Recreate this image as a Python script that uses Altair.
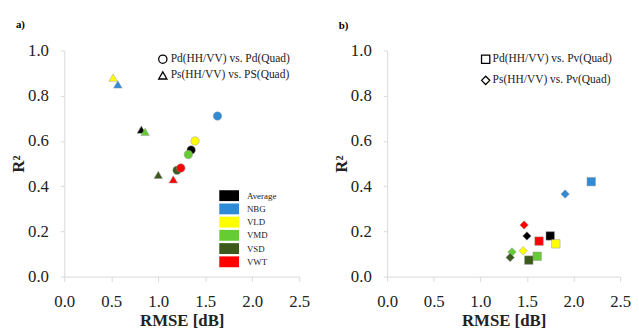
import altair as alt
import pandas as pd

categories = ["Average", "NBG", "VLD", "VMD", "VSD", "VWT"]
colors = ["#000000", "#2E8BD8", "#FFFF00", "#66CC33", "#3B5A1C", "#FF0000"]

# panel a)
a_series = ["Pd(HH/VV) vs. Pd(Quad)", "Ps(HH/VV) vs. PS(Quad)"]
a_pd_rmse = [1.35, 1.63, 1.39, 1.32, 1.20, 1.24]
a_pd_r2 = [0.56, 0.71, 0.60, 0.54, 0.47, 0.48]
a_ps_rmse = [0.82, 0.57, 0.52, 0.86, 1.00, 1.16]
a_ps_r2 = [0.65, 0.85, 0.88, 0.64, 0.45, 0.43]

# panel b)
b_series = ["Pd(HH/VV) vs. Pv(Quad)", "Ps(HH/VV) vs. Pv(Quad)"]
b_pd_rmse = [1.75, 2.19, 1.81, 1.61, 1.52, 1.63]
b_pd_r2 = [0.18, 0.42, 0.145, 0.09, 0.073, 0.157]
b_ps_rmse = [1.50, 1.91, 1.46, 1.34, 1.32, 1.47]
b_ps_r2 = [0.18, 0.365, 0.114, 0.109, 0.085, 0.228]

x_ticks = [0.0, 0.5, 1.0, 1.5, 2.0, 2.5]
y_ticks = [0.0, 0.2, 0.4, 0.6, 0.8, 1.0]

FONT = "Liberation Serif"


def make_df(series, pd_rmse, pd_r2, ps_rmse, ps_r2):
    rows = []
    for i, c in enumerate(categories):
        rows.append({"series": series[0], "category": c, "rmse": pd_rmse[i], "r2": pd_r2[i]})
    for i, c in enumerate(categories):
        rows.append({"series": series[1], "category": c, "rmse": ps_rmse[i], "r2": ps_r2[i]})
    return pd.DataFrame(rows)


def panel(df, series, shapes, label, label_dy, shape_legend, color_legend, w):
    x = alt.X("rmse:Q", scale=alt.Scale(domain=[0, 2.5], nice=False, zero=False),
              axis=alt.Axis(values=x_ticks, format=".1f", title="RMSE [dB]"))
    y = alt.Y("r2:Q", scale=alt.Scale(domain=[0, 1], nice=False),
              axis=alt.Axis(values=y_ticks, format=".1f", title="R²"))
    pts = alt.Chart(df).mark_point(filled=True, opacity=1, size=74,
                                   stroke="#9a9a9a", strokeWidth=0.5).encode(
        x=x, y=y,
        color=alt.Color("category:N", scale=alt.Scale(domain=categories, range=colors),
                        legend=color_legend),
        shape=alt.Shape("series:N", scale=alt.Scale(domain=series, range=shapes),
                        legend=shape_legend),
    )
    txt = alt.Chart(pd.DataFrame({"label": [label]})).mark_text(
        align="left", baseline="middle", fontWeight="bold", fontSize=11, font=FONT,
        color="#000").encode(x=alt.value(-49), y=alt.value(label_dy), text="label:N")
    return alt.layer(pts, txt).properties(width=w, height=229).resolve_scale(
        color="independent", shape="independent")


color_leg = alt.Legend(orient="none", legendX=157, legendY=142, title=None,
                       symbolType="M-2,-1.1L2,-1.1L2,1.1L-2,1.1Z", symbolSize=100,
                       symbolStrokeWidth=0, symbolOpacity=1, symbolOffset=5,
                       labelOffset=13, labelFontSize=9, labelFont=FONT,
                       labelColor="#222", rowPadding=1.4, padding=0)

shape_leg_a = alt.Legend(orient="none", legendX=94, legendY=3, title=None,
                         symbolSize=70, symbolFillColor="white", symbolStrokeColor="black",
                         symbolStrokeWidth=1.3, labelFontSize=11.6, labelFont=FONT,
                         labelColor="#222", labelOffset=2.2, rowPadding=2.4, padding=0)

shape_leg_b = alt.Legend(orient="none", legendX=94, legendY=3, title=None,
                         symbolSize=70, symbolFillColor="white", symbolStrokeColor="black",
                         symbolStrokeWidth=1.3, labelFontSize=11.6, labelFont=FONT,
                         labelColor="#222", labelOffset=1.2, rowPadding=7.4, padding=0)

left = panel(make_df(a_series, a_pd_rmse, a_pd_r2, a_ps_rmse, a_ps_r2),
             a_series, ["circle", "triangle-up"], "a)", -26, shape_leg_a, color_leg, 238)
right = panel(make_df(b_series, b_pd_rmse, b_pd_r2, b_ps_rmse, b_ps_r2),
              b_series, ["square", "diamond"], "b)", -25, shape_leg_b, None, 236)

chart = alt.hconcat(left, right, spacing=22).resolve_scale(
    color="independent", shape="independent"
).properties(
    padding={"left": 1, "top": 9, "right": 0, "bottom": 0}
).configure_view(stroke=None).configure_axis(
    grid=False,
    domainColor="#d9d9d9",
    tickColor="#d9d9d9",
    labelFont=FONT,
    labelFontSize=17,
    labelColor="#222",
    labelFlush=False,
    labelOverlap=False,
    titleFont=FONT,
    titleFontSize=17,
    titleFontWeight="bold",
    titleColor="#222",
).configure_axisX(
    tickSize=5, labelPadding=12, titlePadding=4
).configure_axisY(
    tickSize=4, labelPadding=12, titlePadding=0
)

chart.save("out.html", embed_options={"renderer": "svg", "actions": False})
